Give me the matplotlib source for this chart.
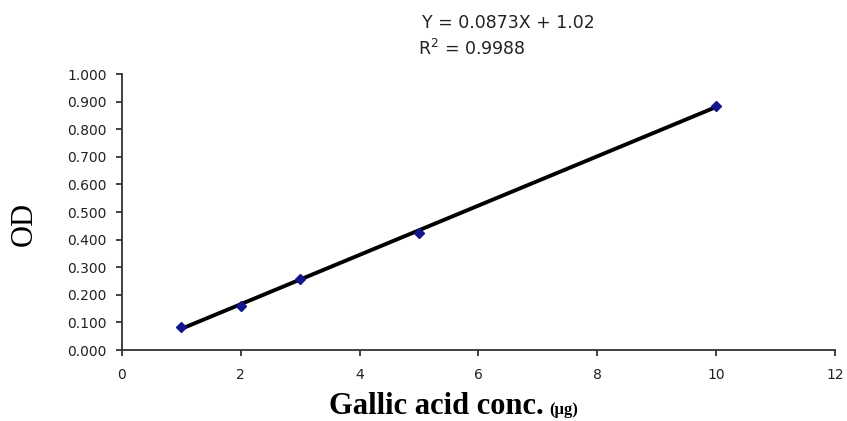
import numpy as np
import matplotlib.pyplot as plt

# gallic acid standard curve
conc = [1, 2, 3, 5, 10]
od = [0.085, 0.161, 0.258, 0.424, 0.885]
eq_text = "Y = 0.0873X + 1.02"
r2_text = "R$^2$ = 0.9988"
yticks = [0.0, 0.1, 0.2, 0.3, 0.4, 0.5, 0.6, 0.7, 0.8, 0.9, 1.0]
xticks = [0, 2, 4, 6, 8, 10, 12]

# linear trendline through the points
slope, icpt = np.polyfit(conc, od, 1)
xfit = np.array([min(conc), max(conc)])

fig = plt.figure(figsize=(8.47, 4.21), dpi=100)
ax = fig.add_axes([0.144, 0.1686, 0.8418, 0.6556])

ax.plot(xfit, slope * xfit + icpt, color='black', lw=2.8, zorder=2)
ax.plot(conc, od, 'D', color='#14148c', ms=5, zorder=3)

ax.set_xlim(0, 12)
ax.set_ylim(0, 1.0)
ax.set_xticks(xticks)
ax.set_yticks(yticks)
ax.set_yticklabels(['%.3f' % v for v in yticks])

for s in ['top', 'right']:
    ax.spines[s].set_visible(False)
for s in ['left', 'bottom']:
    ax.spines[s].set_color('#333333')
    ax.spines[s].set_linewidth(1.3)

ax.tick_params(axis='both', direction='out', length=4, width=1.3, color='#333333')
ax.tick_params(axis='y', labelsize=10, pad=7)
ax.tick_params(axis='x', labelsize=10, pad=9)
for lab in ax.get_xticklabels() + ax.get_yticklabels():
    lab.set_fontfamily('DejaVu Sans')
    lab.set_color('#222222')

fig.text(24 / 847, 1 - 224 / 421, 'OD', family='Liberation Serif',
         fontsize=22, rotation=90, ha='center', va='center')

xl = fig.text(329 / 847, 1 - 414 / 421, 'Gallic acid conc.', family='Liberation Serif',
              fontweight='bold', fontsize=22, ha='left', va='baseline')
fig.canvas.draw()
bb = xl.get_window_extent()
fig.text((bb.x1 + 5) / 847, 1 - 414 / 421, '(µg)', family='Liberation Serif',
         fontweight='bold', fontsize=12, ha='left', va='baseline')

fig.text(422 / 847, 1 - 28 / 421, eq_text, family='DejaVu Sans', fontsize=12.5,
         va='baseline', color='#222222')
fig.text(418 / 847, 1 - 55 / 421, r2_text, family='DejaVu Sans', fontsize=12.5,
         va='baseline', color='#222222')

fig.savefig('out.png', dpi=100)
